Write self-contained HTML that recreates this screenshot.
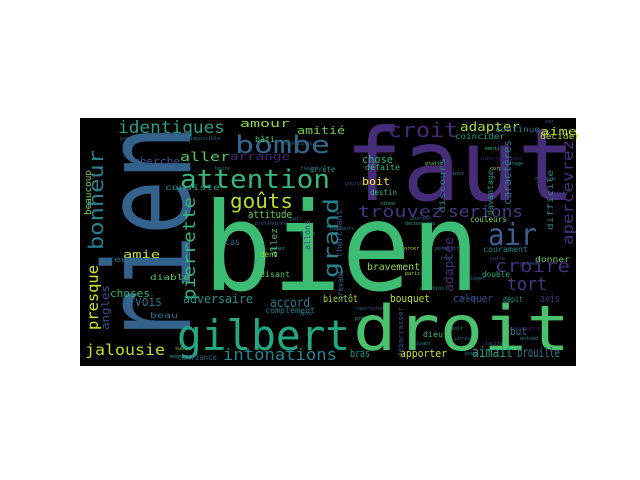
<!DOCTYPE html>
<html><head><meta charset="utf-8"><style>
html,body{margin:0;padding:0;background:#fff;width:640px;height:480px;overflow:hidden}
svg text{font-family:"DejaVu Sans Mono","Liberation Mono",monospace}
</style></head><body>
<svg id="chart" width="640" height="480" viewBox="0 0 640 480" xmlns="http://www.w3.org/2000/svg">
<rect x="80" y="118" width="496" height="248" fill="#000"/>
<g id="words"></g>
</svg>
<script>
const words = ["bien","faut","rien","droit","gilbert","attention","bombe","identiques","bonheur","goûts","grand","air","croit","croire","tort","trouvez","serions","adapter","aime","pierrette","presque","jalousie","intonations","adversaire","accord","vois","angles","choses","amie","amour","amitié","aller","arrange","cherche","attitude","bravement","bouquet","bientôt","calquer","avis","apporter","aimait","brouille","bras","but","adaptée","apercevrez","caractères","chose","boit","beaucoup","couleurs","consiste","cas","beau","diable","destin","défaite","discours","davantage","difficile","coïncider","décider","continue","bâti","arrête","dieu","donner","dépit","double","courament","allez","creux","disant","confiance","complément","deni","cherchant","crevant","allons","débarrasser"];
const xs = [203,345,190,353,177,180,235,118,103,230,338,488,388,495,507,358,448,460,540,195,98,85,223,183,270,135,109,110,123,240,297,180,230,133,248,367,390,323,453,540,400,472,517,350,510,453,573,511,362,362,91,470,165,225,150,150,370,365,445,493,553,455,540,495,255,310,423,535,503,482,483,277,100,260,177,265,260,342,343,310,403];
const ys = [290,200,345,350,350,188,153,133,250,208,278,245,137,272,290,217,217,131,135,300,330,355,360,303,307,306,330,297,258,127,134,161,160,165,218,270,302,302,302,302,357,357,357,357,335,292,245,205,163,185,215,222,190,245,318,280,195,170,213,215,230,139,139,132,142,172,337,262,302,277,252,257,262,277,360,313,257,257,300,250,357];
const lens = [277,230,220,217,173,150,95,107,100,63,80,49,70,75,40,85,75,60,37,103,65,80,114,70,40,27,45,40,37,50,48,50,60,47,44,53,40,35,40,20,47,41,43,20,17,55,105,65,31,28,45,37,55,15,28,40,27,35,55,45,60,50,40,45,20,25,20,35,20,28,45,29,35,30,40,50,18,47,30,30,50];
const sizes = [122,100,120,62,42,26,24,17,20,20,20,30,20,18,18,16,16,12,11,17,15,15,16,12,13,14,11,11,11,11,11,12,11,11,11,10,11,10,11,11,11,14,13,11,11,12,15,11,11,11,9,8,8,10,8,8,8,8,8,8,8,8,8,8,8,8,8,8,8,8,8,9,8,8,8,8,8,8,8,8,7];
const colors = ["#3dbc74","#472c7a","#33638d","#4ac16d","#22a884","#35b779","#31688e","#2a9d8a","#277f8e","#b5de2b","#25838e","#3e5f8f","#482878","#462f7d","#443983","#453581","#433e85","#a5db36","#b8de29","#35b779","#d8e219","#c2df23","#26828e","#21918c","#2a788e","#2c728e","#3b528b","#2fb47c","#cde11d","#90d743","#6ece58","#54c568","#482475","#3b528b","#65cb5e","#8fd744","#bddf26","#a8db34","#3e4a89","#46337f","#d0e11c","#1f9e89","#2a788e","#1f9a8a","#2d718e","#472d7b","#46307e","#287c8e","#2db27d","#fde725","#75d054","#86d549","#1f948c","#35608d","#2c728e","#4ec36b","#2fb47c","#37b878","#25848e","#1e9b8a","#24878e","#20a486","#bddf26","#2a768e","#52c569","#21918c","#3dbc74","#6ccd5a","#1f9e89","#26ad81","#24868e","#42be71","#2e6e8e","#56c667","#31688e","#287d8e","#81d34d","#38588c","#2d708e","#3e4c8a","#3b528b"];
const rot = [0,0,1,0,0,0,0,0,1,0,1,0,0,0,0,0,0,0,0,1,1,0,0,0,0,0,1,0,0,0,0,0,0,0,0,0,0,0,0,0,0,0,0,0,0,1,1,1,0,0,1,0,0,0,0,0,0,0,1,1,1,0,0,0,0,0,0,0,0,0,0,1,0,0,0,0,0,1,1,1,1];
const g = document.getElementById('words');
const NS = 'http://www.w3.org/2000/svg';
for (let i = 0; i < words.length; i++) {
  const t = document.createElementNS(NS, 'text');
  
  
  t.setAttribute('x', xs[i]);
  t.setAttribute('y', ys[i]);
  t.setAttribute('font-size', sizes[i]);
  t.setAttribute('fill', colors[i]);
  t.setAttribute('textLength', lens[i]);
  t.setAttribute('lengthAdjust', 'spacingAndGlyphs');
  if (rot[i]) t.setAttribute('transform', 'rotate(-90 ' + xs[i] + ' ' + ys[i] + ')');
  t.textContent = words[i];
  g.appendChild(t);
}
const tiny = ["prodigue","impossible","solutions","fleurs","mars","heure","gratter","corps","interrogations","force","prétendions","découragés","cible","puis","parlants","gêner","ensorcer","permettrai","garage","oignons","sur","paris","question","léger","fraude","rapprocher","première","objets","sinon","pourvu","imaginez","savoir","phrase","provenance","entend","tacites","boug","suivant","ouvrier","monstre","émotion","gestes","sale","outre","trop","subir","âpre"];
const tx = [120,190,285,300,180,215,425,490,480,150,255,405,300,290,330,270,395,435,505,535,545,405,420,470,460,355,355,550,380,345,440,445,455,510,520,485,465,410,410,170,485,520,420,490,440,175,300];
const ty = [140,140,145,170,170,170,165,170,160,225,225,225,235,220,230,250,250,250,165,180,123,275,290,280,300,310,320,195,205,185,175,330,340,330,340,345,355,345,220,358,150,265,275,260,260,350,315];
const tc = ["#3b528b","#2c728e","#25848e","#2a788e","#3e4a89","#287d8e","#6ece58","#b5de2b","#482878","#1f9a8a","#3e4c8a","#1f9e89","#24878e","#35608d","#31688e","#2fb47c","#b5de2b","#2d708e","#1f948c","#2a768e","#33638d","#a5db36","#21918c","#2e6e8e","#3b528b","#38588c","#22a884","#31688e","#2fb47c","#3e4a89","#2a788e","#1f9e89","#33638d","#481f70","#26828e","#3b528b","#2a788e","#24868e","#2d708e","#1f9a8a","#35b779","#31688e","#46337f","#3e4c8a","#25838e","#86d549","#2c728e"];
for (let i = 0; i < tiny.length; i++) {
  const t = document.createElementNS(NS, 'text');
  
  
  t.setAttribute('x', tx[i]);
  t.setAttribute('y', ty[i]);
  t.setAttribute('font-size', 5);
  t.setAttribute('fill', tc[i]);
  t.textContent = tiny[i];
  g.insertBefore(t, g.firstChild);
}
</script>
</body></html>
